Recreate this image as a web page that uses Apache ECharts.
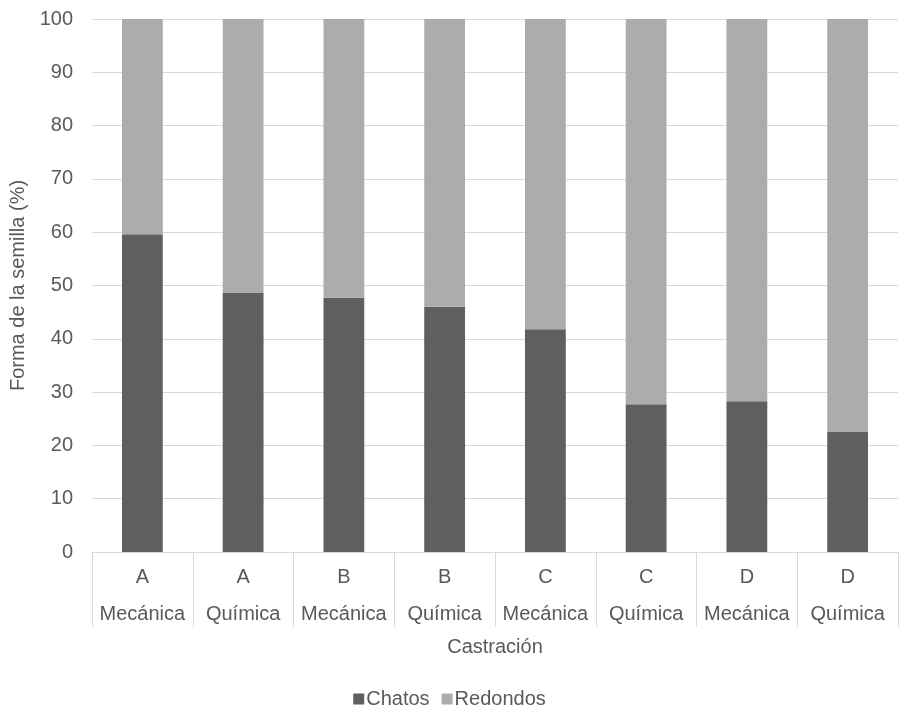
<!DOCTYPE html>
<html><head><meta charset="utf-8">
<script src="https://cdn.jsdelivr.net/npm/echarts@6/dist/echarts.min.js"></script>
<style>html,body{margin:0;padding:0;background:#fff}#c{width:899px;height:708px}</style>
</head><body><div id="c"></div>
<script>
const groups = ['A','A','B','B','C','C','D','D'];
const methods = ['Mecánica','Química','Mecánica','Química','Mecánica','Química','Mecánica','Química'];
const chatos = [59.6, 48.6, 47.7, 46.0, 41.8, 27.7, 28.3, 22.5];
const redondos = [40.4, 51.4, 52.3, 54.0, 58.2, 72.3, 71.7, 77.5];
const yTicks = [0,10,20,30,40,50,60,70,80,90,100];

const categories = groups.map((g,i)=>g+'\n'+methods[i]);
const chart = echarts.init(document.getElementById('c'));
const txt = '#595959';
chart.setOption({
  animation:false,
  textStyle:{fontFamily:'Liberation Sans, Arial, sans-serif'},
  grid:{left:92,right:1,top:19,bottom:156},
  legend:{top:684,left:'center',itemWidth:11,itemHeight:11,itemGap:12,icon:'rect',
    textStyle:{color:txt,fontSize:20,padding:[0,0,0,-3]},data:['Chatos','Redondos']},
  xAxis:{type:'category',data:categories,
    name:'Castración',nameLocation:'middle',nameGap:80,nameTextStyle:{color:txt,fontSize:20},
    axisLine:{lineStyle:{color:'#d9d9d9',width:1}},
    axisTick:{show:true,interval:0,length:75,lineStyle:{color:'#d9d9d9'}},
    axisLabel:{interval:0,color:txt,fontSize:20,lineHeight:37,margin:7}},
  yAxis:{type:'value',min:yTicks[0],max:yTicks[yTicks.length-1],interval:10,
    name:'Forma de la semilla (%)',nameLocation:'middle',nameGap:56,nameTextStyle:{color:txt,fontSize:20},
    axisLine:{show:false},axisTick:{show:false},
    axisLabel:{color:txt,fontSize:20,margin:19},
    splitLine:{lineStyle:{color:'#d9d9d9',width:1}}},
  series:[
    {name:'Chatos',type:'bar',stack:'s',data:chatos,barWidth:'40.5%',itemStyle:{color:'#5f5f5f'}},
    {name:'Redondos',type:'bar',stack:'s',data:redondos,barWidth:'40.5%',itemStyle:{color:'#acacac'}}
  ]
});
</script></body></html>
